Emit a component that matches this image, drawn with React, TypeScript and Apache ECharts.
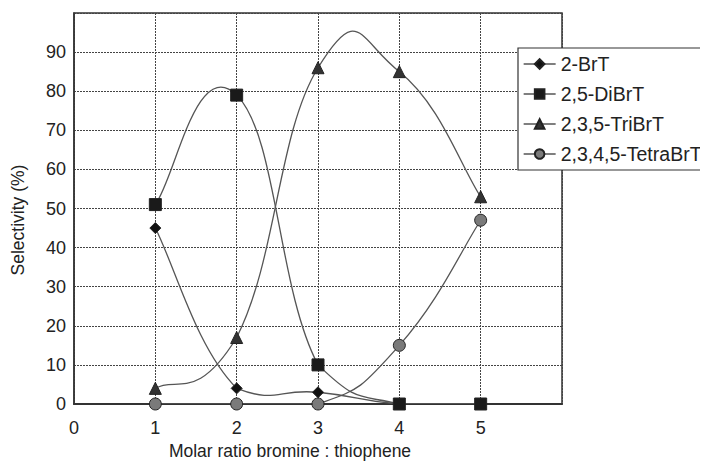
import React, { useEffect, useRef } from "react";
import * as echarts from "echarts";

const ratios = [1, 2, 3, 4, 5];
const brT = [45, 4, 3, 0, 0];
const diBrT = [51, 79, 10, 0, 0];
const triBrT = [4, 17, 86, 85, 53];
const tetraBrT = [0, 0, 0, 15, 47];
const seriesNames = ["2-BrT", "2,5-DiBrT", "2,3,5-TriBrT", "2,3,4,5-TetraBrT"];
const xTitle = "Molar ratio bromine : thiophene";
const yTitle = "Selectivity (%)";

const FONT = "Liberation Sans, Arial, Helvetica, sans-serif";
const TENSION = 0.25;

// cardinal spline through the pixel points; control points are kept above the x axis
function splinePath(pts: number[][], yFloor: number): string {
  let d = `M${pts[0][0]},${pts[0][1]}`;
  for (let i = 0; i < pts.length - 1; i++) {
    const p0 = pts[i - 1] || pts[i];
    const p1 = pts[i];
    const p2 = pts[i + 1];
    const p3 = pts[i + 2] || pts[i + 1];
    const c1x = p1[0] + (p2[0] - p0[0]) * TENSION;
    const c1y = Math.min(yFloor, p1[1] + (p2[1] - p0[1]) * TENSION);
    const c2x = p2[0] - (p3[0] - p1[0]) * TENSION;
    const c2y = Math.min(yFloor, p2[1] - (p3[1] - p1[1]) * TENSION);
    d += ` C${c1x},${c1y} ${c2x},${c2y} ${p2[0]},${p2[1]}`;
  }
  return d;
}

export default function App() {
  const ref = useRef<HTMLDivElement>(null);
  useEffect(() => {
    const chart = echarts.init(ref.current!, undefined, { renderer: "svg" });
    const curve = (name: string, vals: number[]) => ({
      name: "curve " + name,
      type: "custom",
      clip: true,
      silent: true,
      z: 2,
      data: ratios.map((r, i) => [r, vals[i]]),
      renderItem: (params: any, api: any) => {
        if (params.dataIndex !== 0) return null;
        const pts = ratios.map((r, i) => api.coord([r, vals[i]]));
        const yFloor = api.coord([0, 0])[1];
        return {
          type: "path",
          shape: { pathData: splinePath(pts, yFloor) },
          style: { fill: "none", stroke: "#555", lineWidth: 1.3 },
        };
      },
    });
    const mk = (name: string, vals: number[], symbol: string, size: number, color: string) => ({
      name,
      type: "line",
      data: ratios.map((r, i) => [r, vals[i]]),
      symbol,
      symbolSize: size,
      showAllSymbol: true,
      lineStyle: { color: "#555", width: 1.3, opacity: 0 },
      itemStyle: { color, borderColor: "#222", borderWidth: 1 },
      z: 3,
    });
    chart.setOption({
      animation: false,
      textStyle: { fontFamily: FONT },
      grid: {
        left: 74,
        top: 13,
        right: 146,
        bottom: 65,
        show: true,
        borderColor: "#333",
        borderWidth: 1.5,
        backgroundColor: "#fff",
      },
      legend: {
        orient: "vertical",
        left: 518,
        top: 48,
        backgroundColor: "#fff",
        borderColor: "#333",
        borderWidth: 1.2,
        padding: [6, 8, 6, 5],
        itemGap: 10,
        itemWidth: 32,
        itemHeight: 12,
        lineStyle: { color: "#555", width: 1.3, opacity: 1 },
        textStyle: { fontFamily: FONT, fontSize: 19.5, lineHeight: 19, color: "#222" },
        data: seriesNames,
      },
      graphic: [
        {
          type: "text",
          x: 290,
          y: 451,
          style: {
            text: xTitle,
            font: `17.5px ${FONT}`,
            fill: "#222",
            align: "center",
            verticalAlign: "middle",
          },
        },
        {
          type: "text",
          x: 18,
          y: 220,
          rotation: Math.PI / 2,
          style: {
            text: yTitle,
            font: `17.5px ${FONT}`,
            fill: "#222",
            align: "center",
            verticalAlign: "middle",
          },
        },
      ],
      xAxis: {
        type: "value",
        min: 0,
        max: 6,
        interval: 1,
        axisLine: { show: true, onZero: false, lineStyle: { color: "#333", width: 2 } },
        axisTick: { show: false },
        axisLabel: {
          fontFamily: FONT,
          fontSize: 18,
          color: "#222",
          margin: 15,
          formatter: (v: number) => (v === 6 ? "" : String(v)),
        },
        splitLine: { show: true, lineStyle: { color: "#444", type: [2, 1], width: 1 } },
      },
      yAxis: {
        type: "value",
        min: 0,
        max: 100,
        interval: 10,
        axisLine: { show: true, lineStyle: { color: "#333", width: 1.5 } },
        axisTick: { show: false },
        axisLabel: {
          fontFamily: FONT,
          fontSize: 18,
          color: "#222",
          margin: 8,
          formatter: (v: number) => (v === 100 ? "" : String(v)),
        },
        splitLine: { show: true, lineStyle: { color: "#444", type: [2, 1], width: 1 } },
      },
      series: [
        curve(seriesNames[0], brT),
        curve(seriesNames[1], diBrT),
        curve(seriesNames[2], triBrT),
        curve(seriesNames[3], tetraBrT),
        mk(seriesNames[0], brT, "diamond", 11, "#111"),
        mk(seriesNames[1], diBrT, "rect", 12, "#1a1a1a"),
        mk(seriesNames[2], triBrT, "triangle", 12, "#333"),
        mk(seriesNames[3], tetraBrT, "circle", 12, "#7a7a7a"),
      ],
    });
    return () => chart.dispose();
  }, []);
  return <div ref={ref} style={{ width: 708, height: 469, margin: -8 }} />;
}
